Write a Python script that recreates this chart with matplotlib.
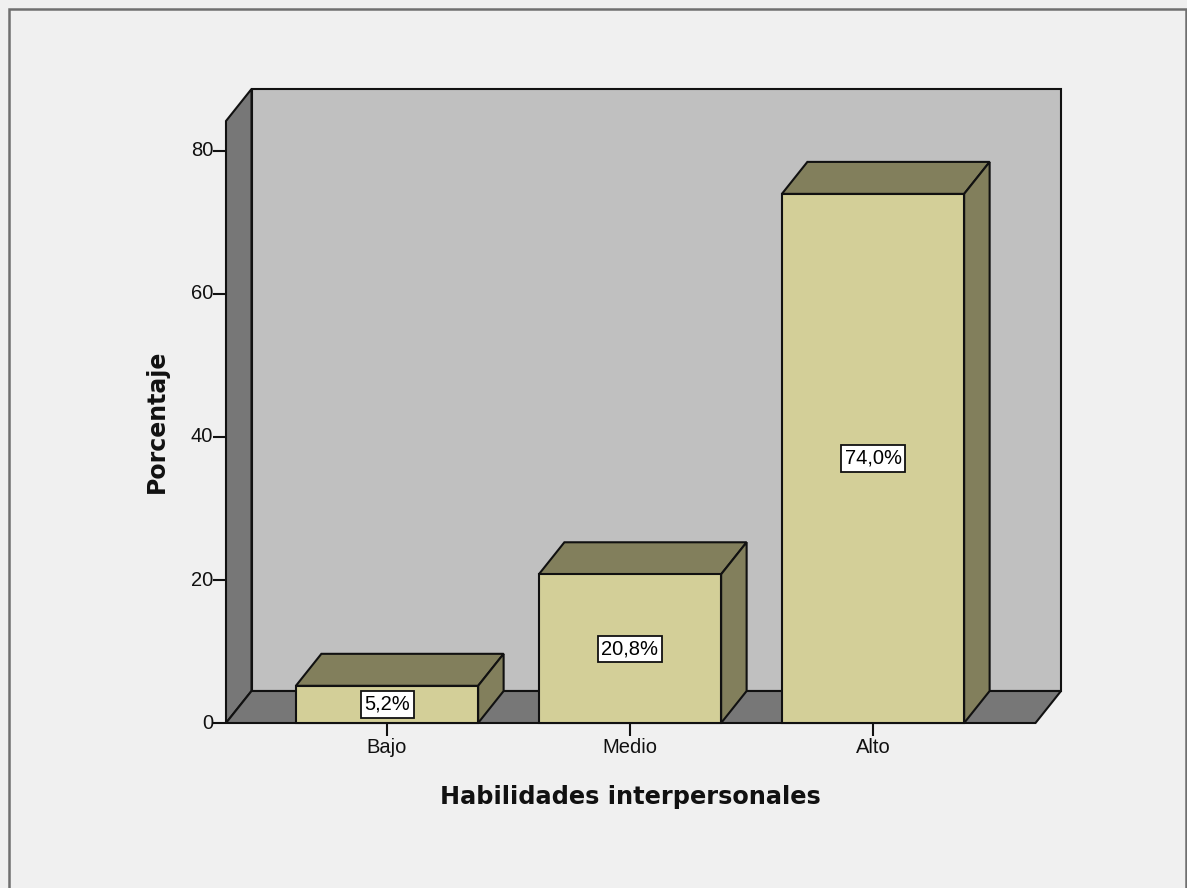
import matplotlib
matplotlib.use("Agg")
import matplotlib.pyplot as plt
from matplotlib.patches import Polygon, Rectangle

categories = ["Bajo", "Medio", "Alto"]
values = [5.2, 20.8, 74.0]
labels = ["5,2%", "20,8%", "74,0%"]
yticks = [0, 20, 40, 60, 80]

W, H = 1187, 888
fig = plt.figure(figsize=(W / 100, H / 100), dpi=100)
fig.patch.set_facecolor("#f0f0f0")

# outer frame
fig.patches.append(Rectangle((8.5 / W, -0.05), (1186 - 8.5) / W, (H - 8.5) / H + 0.05,
                             transform=fig.transFigure, fill=False,
                             edgecolor="#707070", lw=1.8, zorder=0))

# axes region in pixels
px_left, px_right = 226, 1062
px_bottom, px_top = 723, 89
ppu_y = (723 - 151) / 80.0
ppu_x = 243.0
cx0 = 387
ax = fig.add_axes([px_left / W, (H - px_bottom) / H, (px_right - px_left) / W, (px_bottom - px_top) / H])
ax.set_xlim((px_left - cx0) / ppu_x, (px_right - cx0) / ppu_x)
ax.set_ylim(0, (px_bottom - px_top) / ppu_y)
ax.axis("off")

dx = 25.5 / ppu_x
dy = 32 / ppu_y
x0 = (226 - cx0) / ppu_x
x1 = (1035.5 - cx0) / ppu_x
ytop = (px_bottom - px_top) / ppu_y - dy
ec = "#111111"
lw = 1.5

def poly(pts, fc, z):
    ax.add_patch(Polygon(pts, closed=True, facecolor=fc, edgecolor=ec, lw=lw,
                         joinstyle="miter", zorder=z, clip_on=False))

# back wall
poly([(x0 + dx, dy), (x1 + dx, dy), (x1 + dx, ytop + dy), (x0 + dx, ytop + dy)], "#c0c0c0", 1)
# left wall
poly([(x0, 0), (x0 + dx, dy), (x0 + dx, ytop + dy), (x0, ytop)], "#777777", 1)
# floor
poly([(x0, 0), (x1, 0), (x1 + dx, dy), (x0 + dx, dy)], "#777777", 1)

bw = 0.75
front_c = "#d3cf98"
dark_c = "#827f5c"
for i, (v, lab) in enumerate(zip(values, labels)):
    l, r = i - bw / 2, i + bw / 2
    poly([(l, v), (r, v), (r + dx, v + dy), (l + dx, v + dy)], dark_c, 3)
    poly([(r, 0), (r + dx, dy), (r + dx, v + dy), (r, v)], dark_c, 3)
    poly([(l, 0), (r, 0), (r, v), (l, v)], front_c, 4)
    ax.text(i, v / 2, lab, ha="center", va="center", fontsize=14.5,
            family="Liberation Sans", zorder=6,
            bbox=dict(boxstyle="square,pad=0.18", facecolor="white", edgecolor=ec, lw=1.3))

# y ticks on left wall front edge
tick_len = 13 / ppu_x
for t in yticks:
    ax.plot([x0 - tick_len, x0], [t, t], color=ec, lw=1.5, zorder=5, clip_on=False,
            solid_capstyle="butt")
    ax.text(x0 - tick_len, t, str(t), ha="right", va="center",
            fontsize=14.5, family="Liberation Sans", color="#111111")

# x ticks
tick_h = 13 / ppu_y
for i, c in enumerate(categories):
    ax.plot([i, i], [0, -tick_h], color=ec, lw=1.5, zorder=5, clip_on=False,
            solid_capstyle="butt")
    ax.text(i, -tick_h - 2 / ppu_y, c, ha="center", va="top", fontsize=14.5,
            family="Liberation Sans", color="#111111")

fig.text(630 / W, 1 - 797 / H, "Habilidades interpersonales", ha="center", va="center",
         fontsize=17.3, fontweight="bold", family="DejaVu Sans", color="#111111")
fig.text(157 / W, 1 - 421 / H, "Porcentaje", ha="center", va="center", rotation=90,
         fontsize=17, fontweight="bold", family="DejaVu Sans", color="#111111")

fig.savefig("out.png", dpi=100, facecolor=fig.get_facecolor())
